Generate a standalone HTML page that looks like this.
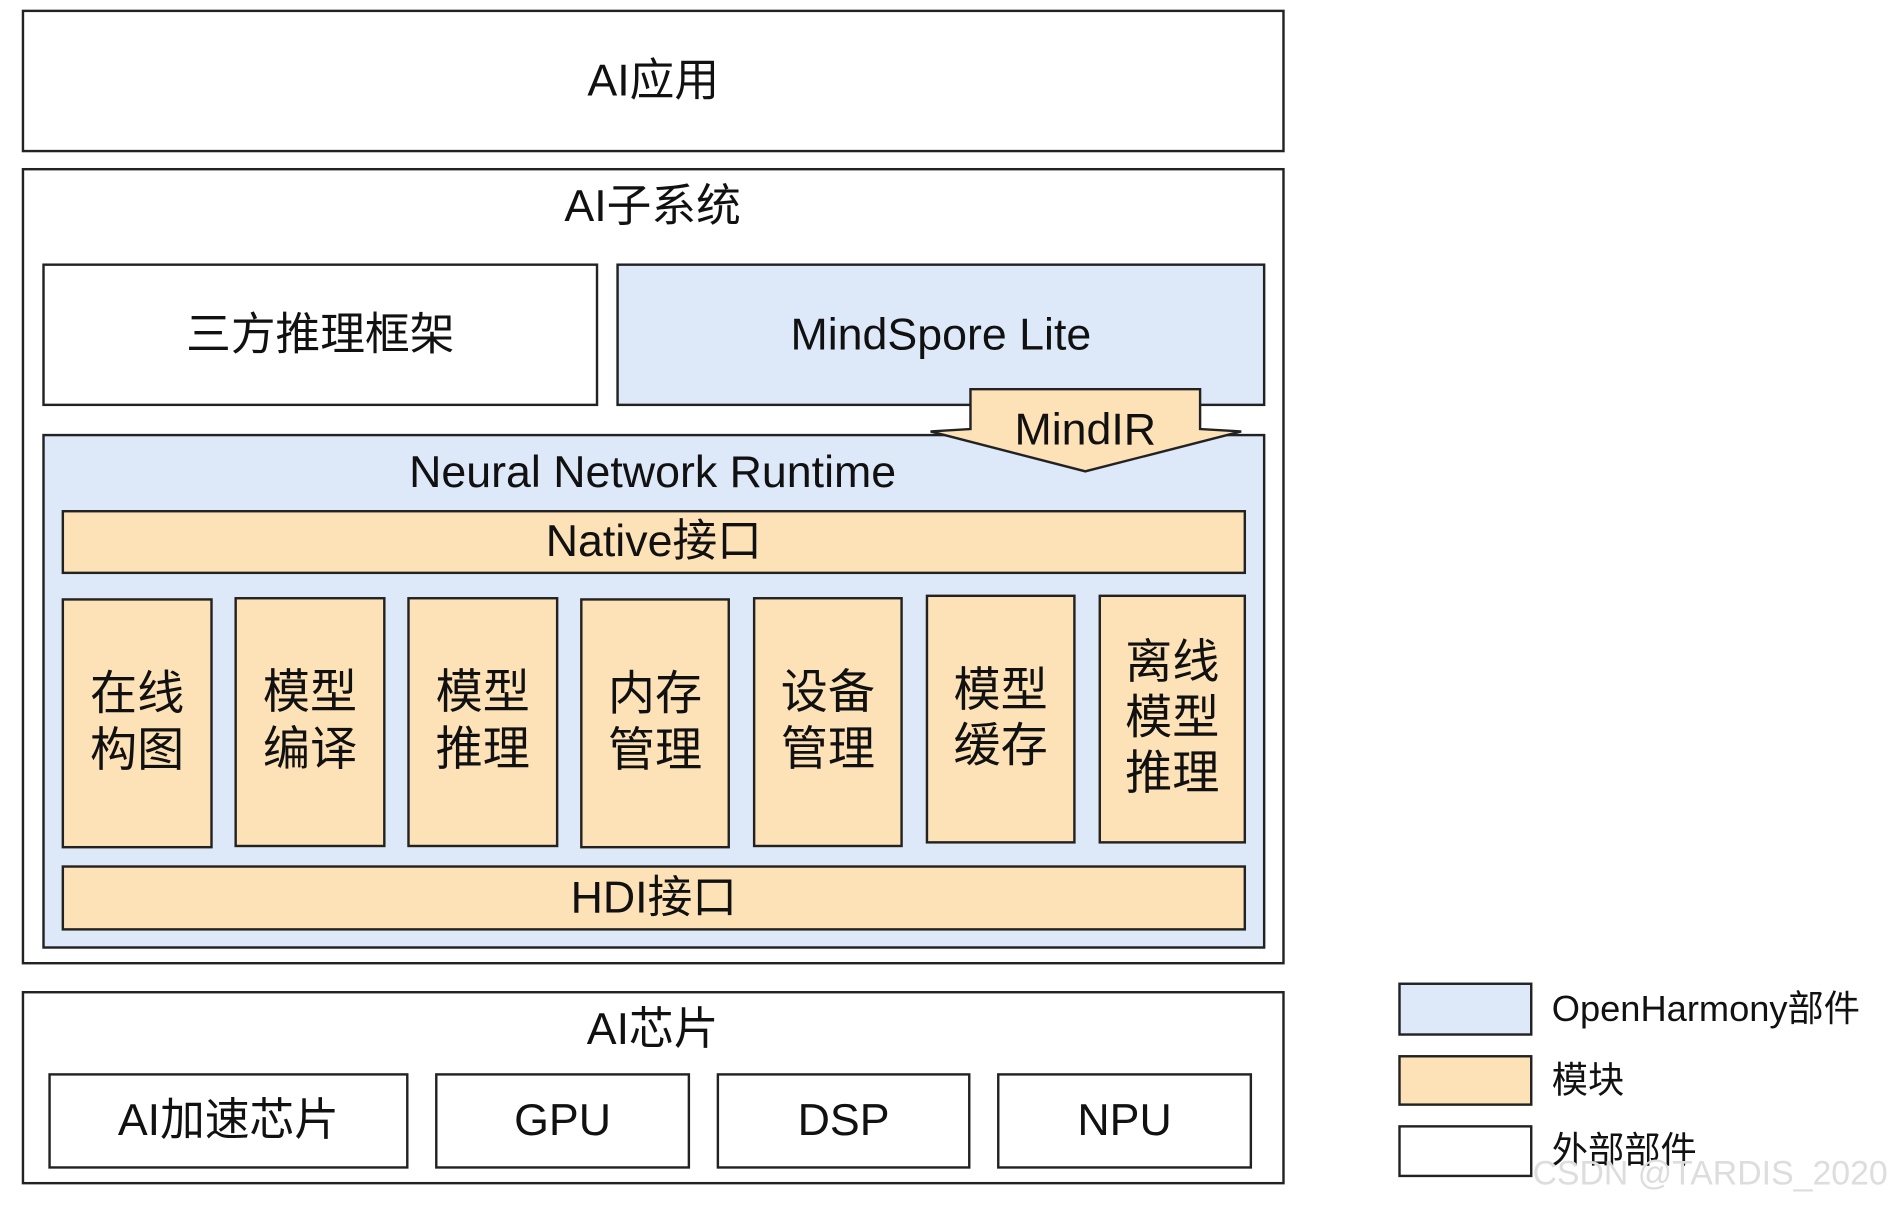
<!DOCTYPE html>
<html><head><meta charset="utf-8"><style>
html,body{margin:0;padding:0;background:#fff;overflow:hidden}
#c{position:relative;width:1568px;height:1001px;transform:scale(1.20855);transform-origin:0 0;font-family:"Liberation Sans","Noto Sans CJK SC",sans-serif;color:#111}
.b{position:absolute;box-sizing:border-box;border:2px solid #222;display:flex;align-items:center;justify-content:center;text-align:center;font-size:37px;line-height:1.2}
.bl{background:#dde8f8}.or{background:#fde2b8}
.t{position:absolute;left:0;width:1080px;text-align:center;font-size:37px;line-height:1}
.m{font-size:39px;line-height:1.18}
.lg{position:absolute;left:1284px;font-size:30px;line-height:1;white-space:nowrap}
</style></head><body><div id="c">
<div class="b" style="left:18px;top:8px;width:1045px;height:118px">AI应用</div>
<div class="b" style="left:18px;top:139px;width:1045px;height:659px"></div>
<div class="t" style="top:152px">AI子系统</div>
<div class="b" style="left:35px;top:218px;width:460px;height:118px">三方推理框架</div>
<div class="b bl" style="left:510px;top:218px;width:537px;height:118px">MindSpore Lite</div>
<div class="b bl" style="left:35px;top:359px;width:1012px;height:426px"></div>
<div class="t" style="top:372px">Neural Network Runtime</div>
<svg style="position:absolute;left:0;top:0" width="1568" height="1001"><polygon points="803,322 993,322 993,355 1027,357 898,390 770,357 803,355" fill="#fde2b8" stroke="#222" stroke-width="2"/><text x="898" y="368" text-anchor="middle" font-size="37" font-family="Liberation Sans, sans-serif" fill="#111">MindIR</text></svg>
<div class="b or" style="left:51px;top:422px;width:980px;height:53px">Native接口</div>
<div class="b or m" style="left:51px;top:495px;width:125px;height:207px">在线<br>构图</div>
<div class="b or m" style="left:194px;top:494px;width:125px;height:207px">模型<br>编译</div>
<div class="b or m" style="left:337px;top:494px;width:125px;height:207px">模型<br>推理</div>
<div class="b or m" style="left:480px;top:495px;width:124px;height:207px">内存<br>管理</div>
<div class="b or m" style="left:623px;top:494px;width:124px;height:207px">设备<br>管理</div>
<div class="b or m" style="left:766px;top:492px;width:124px;height:206px">模型<br>缓存</div>
<div class="b or m" style="left:909px;top:492px;width:122px;height:206px">离线<br>模型<br>推理</div>
<div class="b or" style="left:51px;top:716px;width:980px;height:54px">HDI接口</div>
<div class="b" style="left:18px;top:820px;width:1045px;height:160px"></div>
<div class="t" style="top:833px">AI芯片</div>
<div class="b" style="left:40px;top:888px;width:298px;height:79px">AI加速芯片</div>
<div class="b" style="left:360px;top:888px;width:211px;height:79px">GPU</div>
<div class="b" style="left:593px;top:888px;width:210px;height:79px">DSP</div>
<div class="b" style="left:825px;top:888px;width:211px;height:79px">NPU</div>
<div class="b bl" style="left:1157px;top:813px;width:111px;height:44px"></div>
<div class="b or" style="left:1157px;top:873px;width:111px;height:42px"></div>
<div class="b" style="left:1157px;top:931px;width:111px;height:43px"></div>
<div class="lg" style="top:821px">OpenHarmony部件</div>
<div class="lg" style="top:880px">模块</div>
<div class="lg" style="top:938px">外部部件</div>
<div style="position:absolute;left:1268px;top:957px;font-size:28px;color:#ddd;line-height:1;white-space:nowrap">CSDN @TARDIS_2020</div>
</div></body></html>
